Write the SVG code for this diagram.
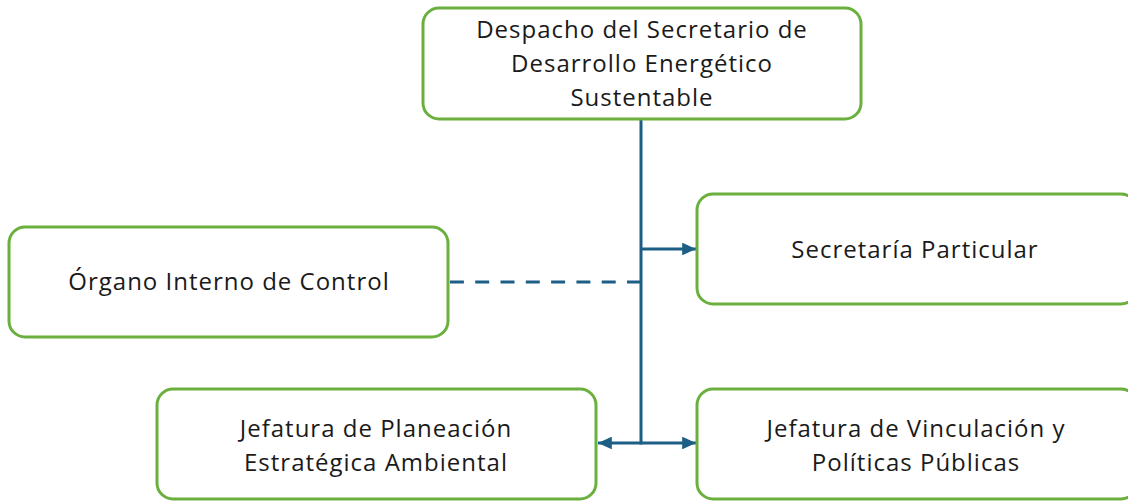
<svg xmlns="http://www.w3.org/2000/svg" width="1128" height="504" viewBox="0 0 1128 504">
<style>
.box{fill:#ffffff;stroke:#6BB03F;stroke-width:3}
.lbl{font-family:"Open Sans","Liberation Sans",Arial,sans-serif;font-size:24px;letter-spacing:1px;fill:#1a1a1a;text-anchor:middle}
.con{fill:none;stroke:#1D5E86;stroke-width:3}
.dash{stroke-dasharray:14 11.3}
</style>
<defs>
<marker id="arr" viewBox="0 0 10 10" refX="10" refY="5" markerWidth="4.6" markerHeight="4.2" markerUnits="strokeWidth" orient="auto-start-reverse" preserveAspectRatio="none">
<path d="M0,0 L10,5 L0,10 z" fill="#1D5E86"/>
</marker>
</defs>
<rect width="1128" height="504" fill="#ffffff"/>
<g id="connectors">
<line class="con" x1="641" y1="120" x2="641" y2="444.5"/>
<line class="con" x1="641" y1="249" x2="696" y2="249" marker-end="url(#arr)"/>
<line class="con dash" x1="641" y1="282" x2="450" y2="282"/>
<line class="con" x1="598" y1="443" x2="696" y2="443" marker-start="url(#arr)" marker-end="url(#arr)"/>
</g>
<g id="despacho">
<rect class="box" x="423" y="8" width="438" height="111" rx="16"/>
<text class="lbl" x="642" y="38">Despacho del Secretario de</text>
<text class="lbl" x="642" y="72">Desarrollo Energético</text>
<text class="lbl" x="642" y="106">Sustentable</text>
</g>
<g id="secretaria">
<rect class="box" x="697" y="194" width="440" height="110" rx="16"/>
<text class="lbl" x="915" y="258">Secretaría Particular</text>
</g>
<g id="organo">
<rect class="box" x="9" y="227" width="439" height="110" rx="16"/>
<text class="lbl" x="229" y="290">Órgano Interno de Control</text>
</g>
<g id="planeacion">
<rect class="box" x="157" y="389" width="439" height="110" rx="16"/>
<text class="lbl" x="376" y="437">Jefatura de Planeación</text>
<text class="lbl" x="376" y="471">Estratégica Ambiental</text>
</g>
<g id="vinculacion">
<rect class="box" x="697" y="389" width="440" height="110" rx="16"/>
<text class="lbl" x="916" y="437">Jefatura de Vinculación y</text>
<text class="lbl" x="916" y="471">Políticas Públicas</text>
</g>
</svg>
